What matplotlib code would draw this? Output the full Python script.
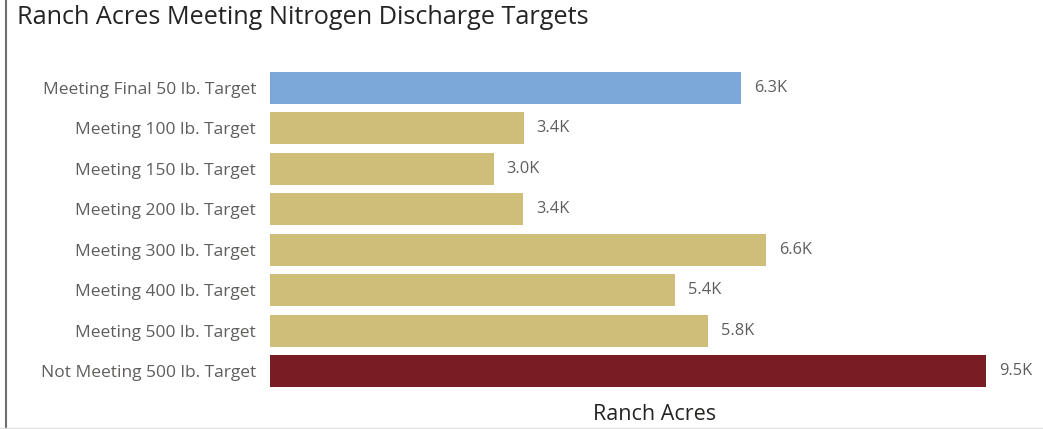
import matplotlib.pyplot as plt
from matplotlib.lines import Line2D

# Data (thousands of ranch acres)
categories = ['Meeting Final 50 lb. Target', 'Meeting 100 lb. Target',
              'Meeting 150 lb. Target', 'Meeting 200 lb. Target',
              'Meeting 300 lb. Target', 'Meeting 400 lb. Target',
              'Meeting 500 lb. Target', 'Not Meeting 500 lb. Target']
acres_k = [6.25, 3.37, 2.97, 3.36, 6.58, 5.37, 5.81, 9.5]
labels = ['6.3K', '3.4K', '3.0K', '3.4K', '6.6K', '5.4K', '5.8K', '9.5K']
bar_colors = ['#7BA7D9'] + ['#CFBD7A'] * 6 + ['#7A1C24']

plt.rcParams['font.family'] = ['Open Sans', 'DejaVu Sans']

fig = plt.figure(figsize=(10.43, 4.29), dpi=100)
ax = fig.add_axes([270 / 1043, 1 - 391.5 / 429, (986 - 270) / 1043, 324 / 429])

y = list(range(len(categories)))
ax.barh(y, acres_k, height=0.8, color=bar_colors)
for yi, v, lab in zip(y, acres_k, labels):
    ax.text(v + 0.17, yi, lab, va='center', ha='left', fontsize=11.8, color='#605E5C')

ax.set_xlim(0, 9.5)
ax.set_ylim(len(categories) - 0.5, -0.5)
ax.set_yticks(y)
ax.set_yticklabels(categories, fontsize=12.5, color='#605E5C')
ax.tick_params(axis='y', length=0, pad=10)
ax.set_xticks([])
for s in ax.spines.values():
    s.set_visible(False)

fig.text(655 / 1043, 1 - 414 / 429, 'Ranch Acres', ha='center', va='center',
         fontsize=15.5, color='#252423')
fig.text(17 / 1043, 1 - 18 / 429, 'Ranch Acres Meeting Nitrogen Discharge Targets',
         ha='left', va='center', fontsize=18.2, color='#252423')

# frame lines of the visual
fig.add_artist(Line2D([5.5 / 1043, 5.5 / 1043], [0, 1], color='#6E6E6E', lw=1.5))
fig.add_artist(Line2D([0, 1], [1.5 / 429, 1.5 / 429], color='#E1E1E1', lw=1))

fig.savefig('out.png', dpi=100)
